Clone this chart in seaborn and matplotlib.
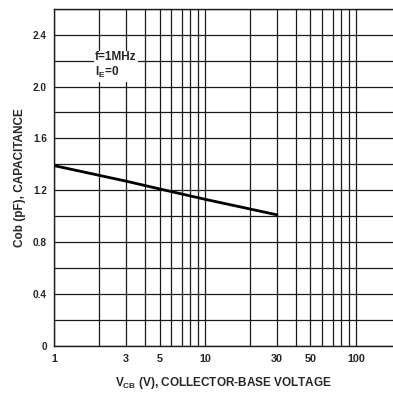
import matplotlib
matplotlib.use("Agg")
import matplotlib.pyplot as plt
import seaborn as sns
import pandas as pd

# data
vcb = [1, 3, 5, 10, 30]
cob = [1.39, 1.27, 1.21, 1.13, 1.01]
x_major = [1, 3, 5, 10, 30, 50, 100]
x_major_labels = ["1", "3", "5", "10", "30", "50", "100"]
x_minor = [2, 4, 6, 7, 8, 9, 20, 40, 60, 70, 80, 90]
y_major = [0, 0.4, 0.8, 1.2, 1.6, 2.0, 2.4]
y_major_labels = ["0", "0.4", "0.8", "1.2", "1.6", "2.0", "2.4"]
y_minor = [0.2, 0.6, 1.0, 1.4, 1.8, 2.2, 2.6]

sns.set_theme(style="white")
plt.rcParams['font.family'] = ['Liberation Sans', 'DejaVu Sans']
plt.rcParams['font.weight'] = 'bold'

fig = plt.figure(figsize=(3.93, 3.95), dpi=100)
ax = fig.add_axes([54/393, 1-345.7/395, 1-54/393, (345.7-8.8)/395])

df = pd.DataFrame({"vcb": vcb, "cob": cob})
sns.lineplot(data=df, x="vcb", y="cob", ax=ax, color="black", linewidth=2.0, zorder=5)

ax.set_xscale("log")
ax.set_xlim(1, 176)
ax.set_ylim(0, 2.6)

ax.set_xticks(x_major)
ax.set_xticklabels(x_major_labels)
ax.set_xticks(x_minor, minor=True)
ax.set_xticklabels([], minor=True)
ax.set_yticks(y_major)
ax.set_yticklabels(y_major_labels)
ax.set_yticks(y_minor, minor=True)

ax.grid(True, which="both", color="#1a1a1a", linewidth=0.9)
ax.tick_params(which="both", length=0)
ax.tick_params(axis="x", labelsize=7.8, pad=6)
ax.tick_params(axis="y", labelsize=7.2, pad=5)
for lab in ax.get_xticklabels() + ax.get_yticklabels():
    lab.set_fontweight("bold")

for s in ["left", "bottom", "top"]:
    ax.spines[s].set_color("#1a1a1a")
    ax.spines[s].set_linewidth(1.0)
ax.spines["right"].set_visible(False)

xl = ax.set_xlabel(r"V$_\mathregular{CB}$ (V), COLLECTOR-BASE VOLTAGE", fontsize=8.5, fontweight="bold")
yl = ax.set_ylabel("Cob (pF), CAPACITANCE", fontsize=8.5, fontweight="bold")
xl.set_va("center")
yl.set_va("center")
ax.xaxis.set_label_coords(0.5, -0.111)
ax.yaxis.set_label_coords(-0.100, 0.5)

ax.text(1.87, 2.16, "f=1MHz\nI$_\\mathregular{E}$=0", fontsize=8.5, fontweight="bold",
        ha="left", va="center", zorder=6, linespacing=1.15,
        bbox=dict(facecolor="white", edgecolor="none", pad=1.0))

fig.savefig("out.png", dpi=100)
